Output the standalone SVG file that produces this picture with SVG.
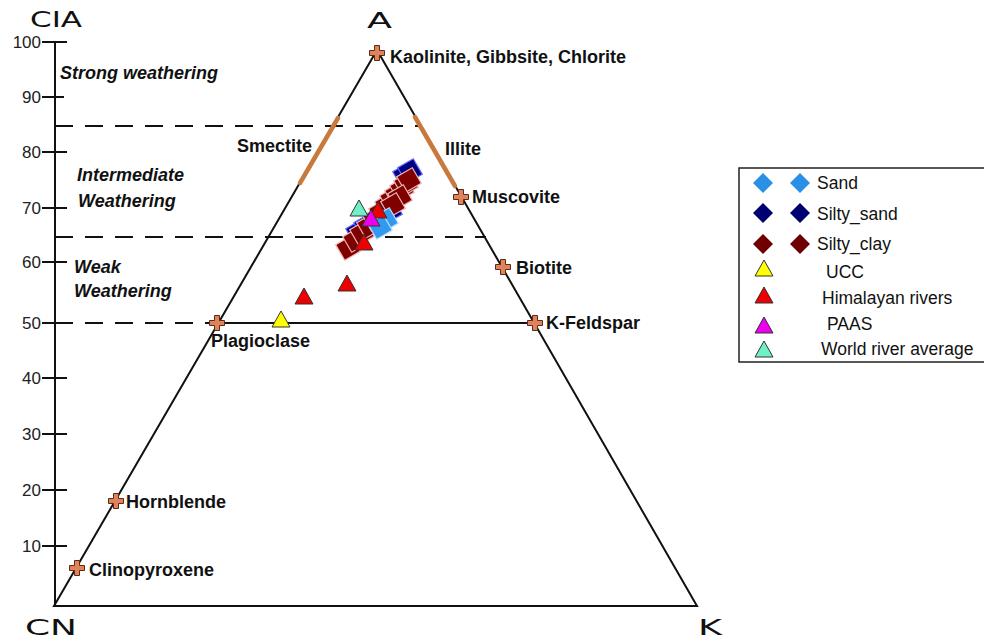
<svg xmlns="http://www.w3.org/2000/svg" xmlns:xlink="http://www.w3.org/1999/xlink" width="984" height="639" viewBox="0 0 984 639">
<style>
.lbl{font-family:"Liberation Sans",Arial,sans-serif;font-weight:bold;font-size:18px;fill:#111}
.zone{font-family:"Liberation Sans",Arial,sans-serif;font-weight:bold;font-style:italic;font-size:18px;fill:#111}
.num{font-family:"Liberation Sans",Arial,sans-serif;font-size:17px;fill:#222;text-anchor:end}
.big{font-family:"DejaVu Sans","Liberation Sans",sans-serif;font-size:21px;fill:#111}
.leg{font-family:"Liberation Sans",Arial,sans-serif;font-size:17.5px;fill:#111}
.edge{stroke:#111;stroke-width:2;fill:none}
.dash{stroke:#111;stroke-width:2;stroke-dasharray:18 12;fill:none}
.clay{stroke:#c87a3e;stroke-width:4.5;stroke-linecap:round}
.cross{fill:#e0835a;stroke:#5a2a1a;stroke-width:1}
.sc{fill:#800000;stroke:#f0b8b8;stroke-width:1.2}
.ss{fill:#000080;stroke:#6070ff;stroke-width:1.2}
.sd{fill:#3399ee;stroke:#bfe0ff;stroke-width:1.2}
.tri{stroke:#333;stroke-width:1}
</style>
<defs>
<path id="cross" d="M-2.5,-7.5H2.5V-2.5H7.5V2.5H2.5V7.5H-2.5V2.5H-7.5V-2.5H-2.5Z"/>
<path id="dia" d="M0,-10L10,0L0,10L-10,0Z"/>
<path id="sq" d="M-9,-9H9V9H-9Z" transform="rotate(-30)"/>
<path id="tri" d="M0,-8L9,8L-9,8Z"/>
</defs>

<g id="axis">
<line class="edge" x1="55" y1="42" x2="55" y2="606"/>
<g stroke="#111" stroke-width="2">
<line x1="42" y1="42" x2="67" y2="42"/>
<line x1="42" y1="97" x2="64" y2="97"/>
<line x1="42" y1="152" x2="67" y2="152"/>
<line x1="42" y1="208" x2="67" y2="208"/>
<line x1="42" y1="262" x2="67" y2="262"/>
<line x1="42" y1="323" x2="67" y2="323"/>
<line x1="42" y1="378" x2="67" y2="378"/>
<line x1="42" y1="434" x2="67" y2="434"/>
<line x1="42" y1="490" x2="67" y2="490"/>
<line x1="42" y1="546" x2="67" y2="546"/>
</g>
<text class="num" x="41" y="48">100</text>
<text class="num" x="41" y="103">90</text>
<text class="num" x="41" y="158">80</text>
<text class="num" x="41" y="214">70</text>
<text class="num" x="41" y="268">60</text>
<text class="num" x="41" y="329">50</text>
<text class="num" x="41" y="384">40</text>
<text class="num" x="41" y="440">30</text>
<text class="num" x="41" y="496">20</text>
<text class="num" x="41" y="552">10</text>
<text class="big" x="30" y="27" textLength="52" lengthAdjust="spacingAndGlyphs">CIA</text>
<text class="big" x="25" y="635" textLength="52" lengthAdjust="spacingAndGlyphs">CN</text>
<text class="big" x="367" y="28" textLength="25" lengthAdjust="spacingAndGlyphs">A</text>
<text class="big" x="698" y="635" textLength="24" lengthAdjust="spacingAndGlyphs">K</text>
</g>

<g id="zones">
<line class="dash" x1="55" y1="126" x2="422" y2="126"/>
<line class="dash" x1="55" y1="237" x2="486" y2="237"/>
<line class="dash" x1="55" y1="323" x2="214" y2="323"/>
<text class="zone" x="60" y="79">Strong weathering</text>
<text class="zone" x="77" y="181">Intermediate</text>
<text class="zone" x="78" y="207">Weathering</text>
<text class="zone" x="74" y="273">Weak</text>
<text class="zone" x="74" y="297">Weathering</text>
</g>

<g id="triangle">
<path class="edge" d="M377,50L54,606H697Z"/>
<line class="edge" x1="216" y1="323" x2="536" y2="323"/>
<line class="clay" x1="338" y1="118" x2="300" y2="183"/>
<line class="clay" x1="415" y1="117" x2="455" y2="186"/>
<text class="lbl" x="237" y="152">Smectite</text>
<text class="lbl" x="445" y="155">Illite</text>
</g>

<g id="minerals">
<use xlink:href="#cross" class="cross" x="377" y="53"/>
<use xlink:href="#cross" class="cross" x="461" y="197"/>
<use xlink:href="#cross" class="cross" x="503" y="267"/>
<use xlink:href="#cross" class="cross" x="535" y="323"/>
<use xlink:href="#cross" class="cross" x="217" y="323"/>
<use xlink:href="#cross" class="cross" x="116" y="501"/>
<use xlink:href="#cross" class="cross" x="77" y="568"/>
<text class="lbl" x="390" y="63">Kaolinite, Gibbsite, Chlorite</text>
<text class="lbl" x="472" y="203">Muscovite</text>
<text class="lbl" x="516" y="274">Biotite</text>
<text class="lbl" x="546" y="329">K-Feldspar</text>
<text class="lbl" x="211" y="347">Plagioclase</text>
<text class="lbl" x="126" y="508">Hornblende</text>
<text class="lbl" x="89" y="576">Clinopyroxene</text>
</g>

<g id="samples">
<use xlink:href="#sq" class="ss" x="405" y="175"/>
<use xlink:href="#sq" class="ss" x="410" y="171"/>
<use xlink:href="#sq" class="ss" x="358" y="232"/>
<use xlink:href="#sq" class="ss" x="366" y="226"/>
<use xlink:href="#sq" class="ss" x="390" y="211"/>
<use xlink:href="#sq" class="sc" x="348" y="248"/>
<use xlink:href="#sq" class="sc" x="355" y="240"/>
<use xlink:href="#sq" class="sc" x="362" y="233"/>
<use xlink:href="#sq" class="sc" x="369" y="226"/>
<use xlink:href="#sq" class="sc" x="375" y="219"/>
<use xlink:href="#sq" class="sc" x="381" y="212"/>
<use xlink:href="#sq" class="sc" x="387" y="205"/>
<use xlink:href="#sq" class="sc" x="392" y="199"/>
<use xlink:href="#sq" class="sc" x="397" y="194"/>
<use xlink:href="#sq" class="sc" x="402" y="189"/>
<use xlink:href="#sq" class="sc" x="406" y="184"/>
<use xlink:href="#sq" class="sc" x="409" y="180"/>
<use xlink:href="#sq" class="sc" x="400" y="197"/>
<use xlink:href="#sq" class="sc" x="393" y="205"/>
<use xlink:href="#sq" class="sd" x="386" y="220"/>
<use xlink:href="#sq" class="sd" x="380" y="227"/>
<use xlink:href="#tri" class="tri" fill="#ee0000" x="304" y="296"/>
<use xlink:href="#tri" class="tri" fill="#ee0000" x="347" y="283"/>
<use xlink:href="#tri" class="tri" fill="#ee0000" x="364" y="242"/>
<use xlink:href="#tri" class="tri" fill="#ee0000" x="378" y="210"/>
<use xlink:href="#tri" class="tri" fill="#70f0c8" x="359" y="208"/>
<use xlink:href="#tri" class="tri" fill="#ee00ee" x="371" y="218"/>
<use xlink:href="#tri" class="tri" fill="#ffff00" x="281" y="319"/>
</g>

<g id="legend">
<path d="M990,168H739V362H990" fill="#fff" stroke="#222" stroke-width="1.5"/>
<use xlink:href="#dia" fill="#2a90e6" x="763" y="183"/>
<use xlink:href="#dia" fill="#2a90e6" x="800" y="183"/>
<use xlink:href="#dia" fill="#000070" x="763" y="213"/>
<use xlink:href="#dia" fill="#000070" x="800" y="213"/>
<use xlink:href="#dia" fill="#700000" x="763" y="244"/>
<use xlink:href="#dia" fill="#700000" x="800" y="244"/>
<use xlink:href="#tri" class="tri" fill="#ffff00" x="764" y="268"/>
<use xlink:href="#tri" class="tri" fill="#ee0000" x="764" y="295"/>
<use xlink:href="#tri" class="tri" fill="#ee00ee" x="764" y="325"/>
<use xlink:href="#tri" class="tri" fill="#70f0c8" x="764" y="349"/>
<text class="leg" x="817" y="189">Sand</text>
<text class="leg" x="817" y="220">Silty_sand</text>
<text class="leg" x="817" y="250">Silty_clay</text>
<text class="leg" x="826" y="278">UCC</text>
<text class="leg" x="822" y="304">Himalayan rivers</text>
<text class="leg" x="827" y="330">PAAS</text>
<text class="leg" x="821" y="355">World river average</text>
</g>
</svg>
